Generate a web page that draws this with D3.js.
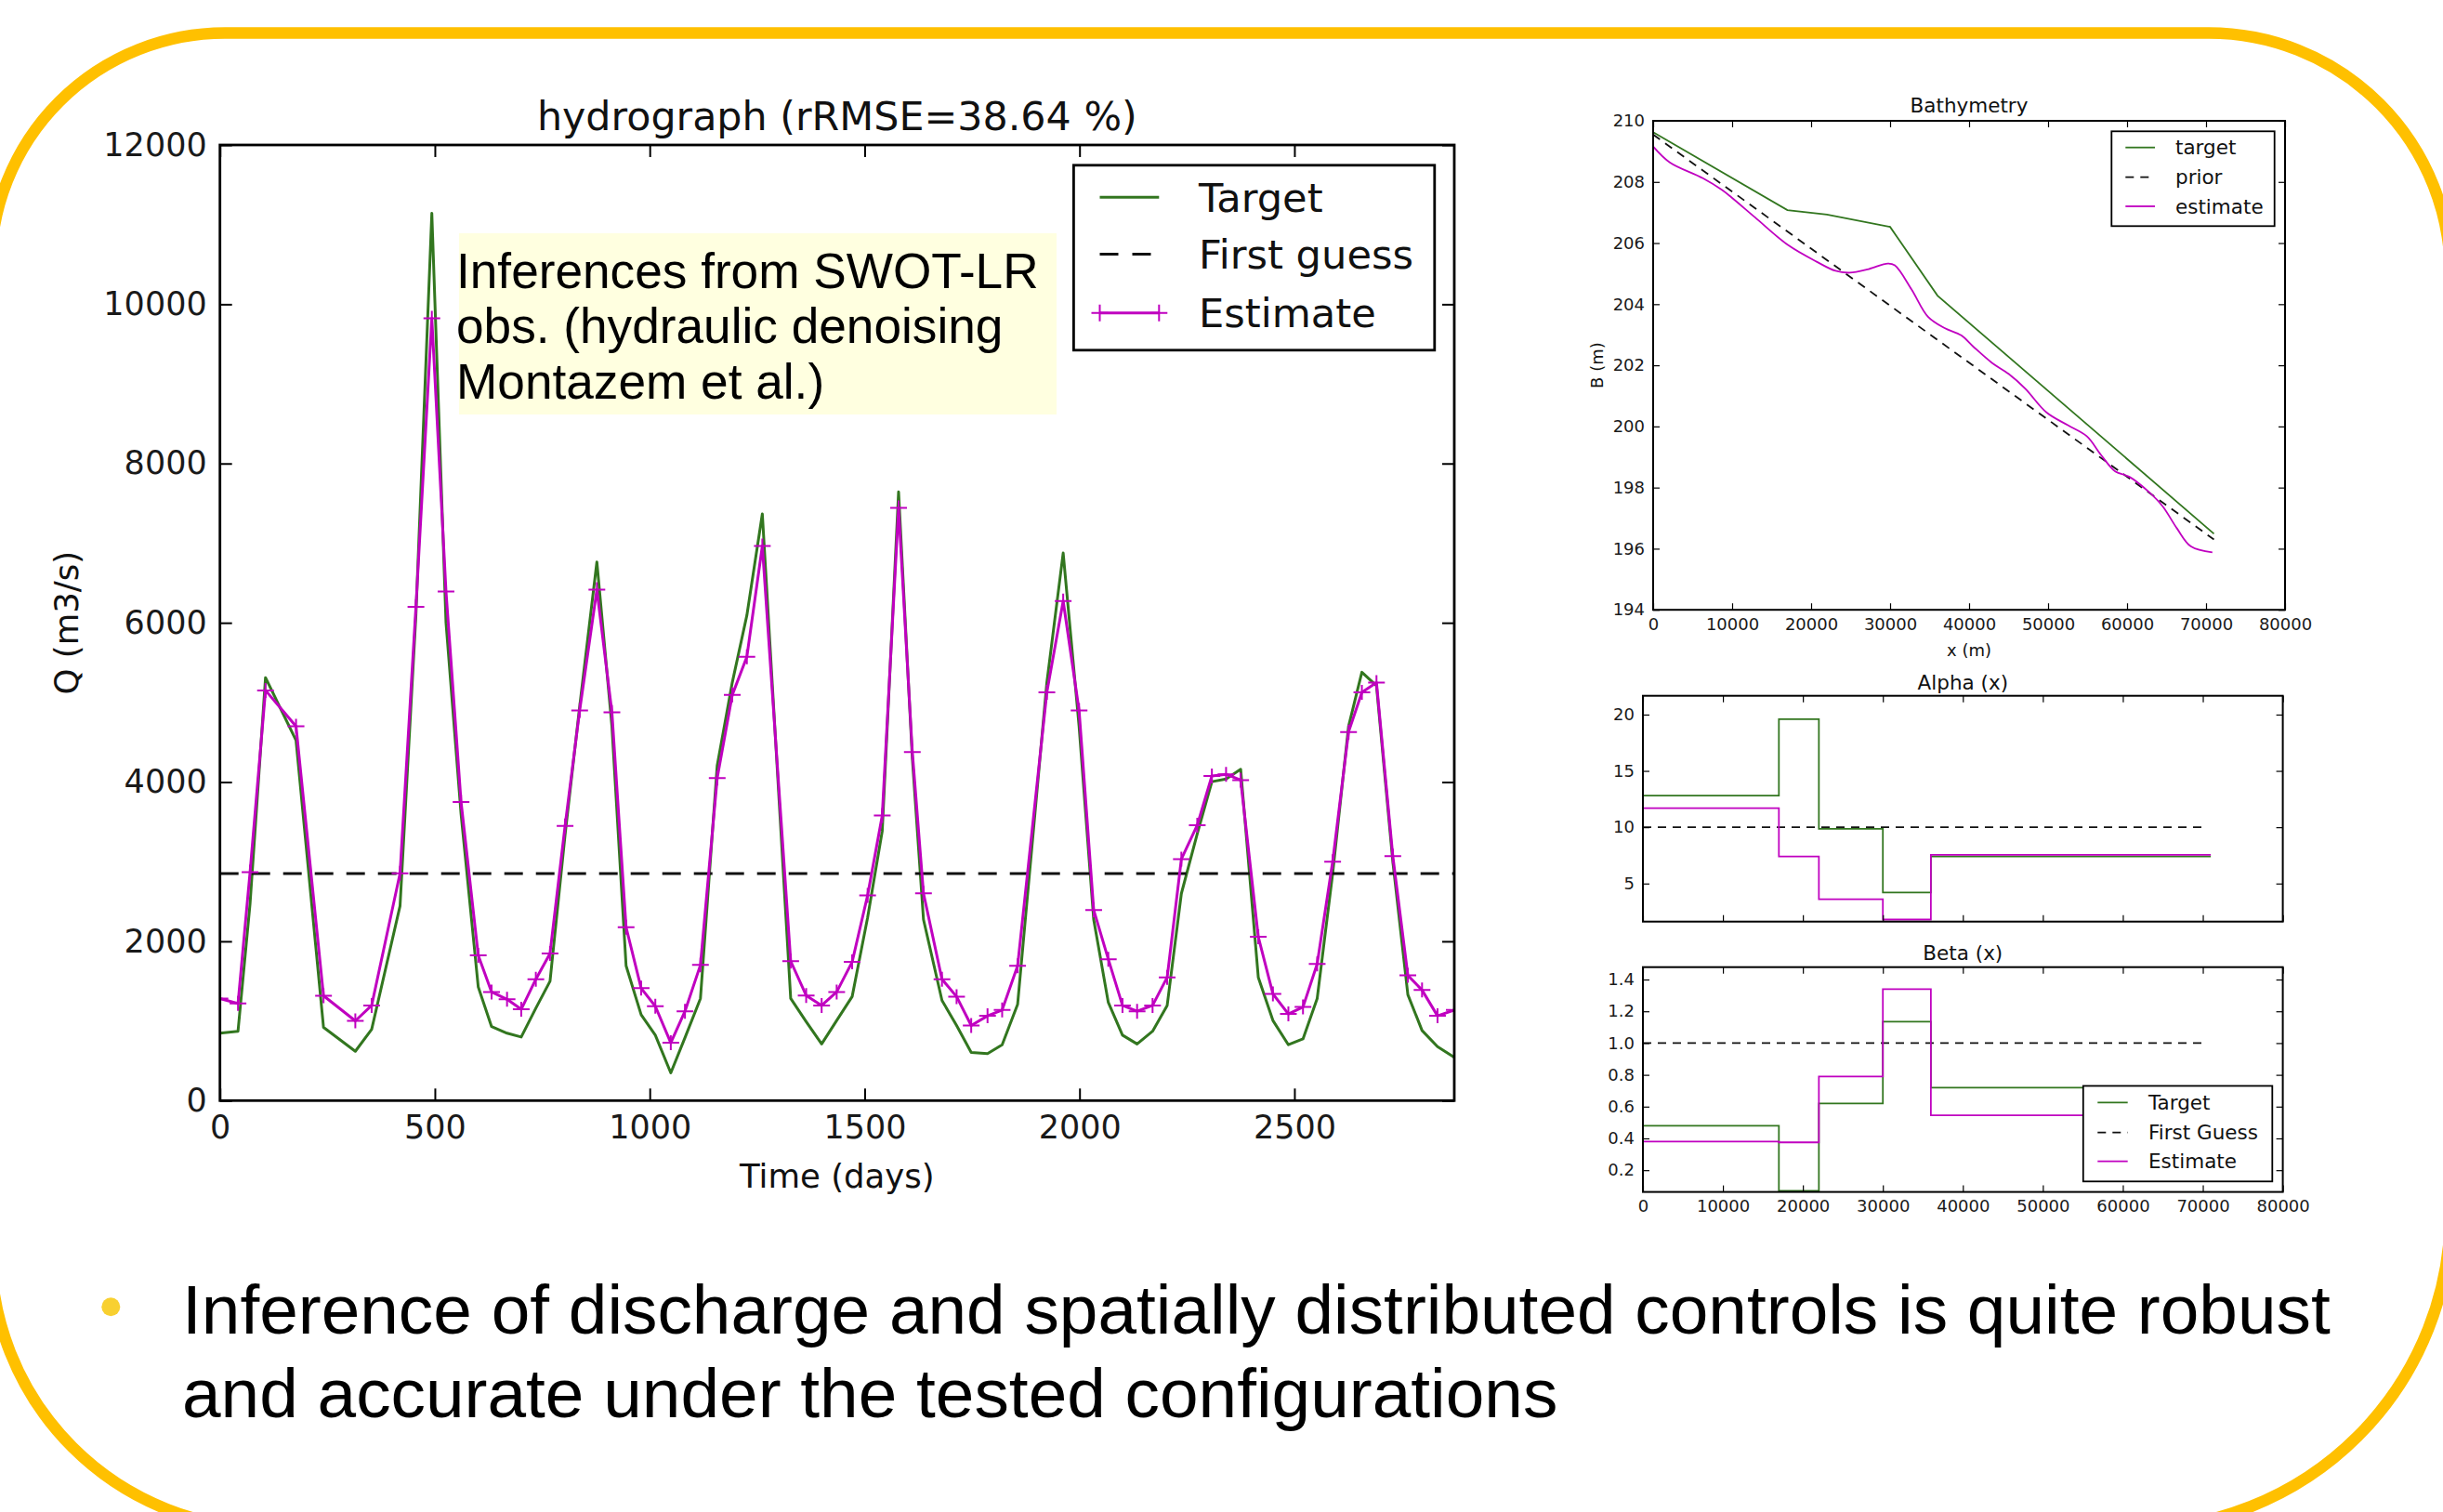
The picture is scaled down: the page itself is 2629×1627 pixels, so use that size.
<!DOCTYPE html>
<html>
<head>
<meta charset="utf-8">
<script src="https://cdn.jsdelivr.net/npm/d3@7"></script>
<style>
  body { margin: 0; background: #fff; }
  svg { display: block; }
</style>
</head>
<body>
<svg id="slide" width="2629" height="1627"></svg>
<script>
// ---- hydrograph data ----
const days = [0, 42, 70, 106, 177, 241, 315, 353, 419, 456, 493, 526, 561, 601, 632, 668, 701, 735, 768, 803,
  837, 877, 912, 945, 980, 1013, 1049, 1082, 1118, 1157, 1192, 1226, 1262, 1328, 1364, 1400, 1435, 1471, 1507,
  1541, 1579, 1611, 1637, 1680, 1714, 1748, 1786, 1820, 1856, 1924, 1962, 1999, 2033, 2067, 2100, 2134, 2170,
  2204, 2237, 2274, 2308, 2341, 2375, 2416, 2450, 2486, 2520, 2553, 2589, 2626, 2657, 2691, 2729, 2764, 2797,
  2833, 2872];
const targetQ = [846, 871, 2470, 5311, 4523, 919, 619, 895, 2443, 6100, 11142, 6000, 3600, 1427, 929, 846, 798,
  1160, 1499, 3337, 4950, 6764, 4700, 1693, 1079, 822, 348, 790, 1282, 4208, 5248, 6093, 7367, 1282, 991, 711,
  1006, 1306, 2300, 3386, 7644, 4300, 2273, 1258, 943, 605, 590, 701, 1209, 5250, 6876, 4700, 2273, 1233, 822,
  711, 871, 1195, 2600, 3350, 4005, 4039, 4160, 1548, 1006, 701, 774, 1282, 2850, 4700, 5379, 5209, 3000, 1330,
  880, 677, 542];
const estimateQ = [1282, 1219, 2868, 5151, 4701, 1316, 1001, 1195, 2854, 6201, 9824, 6393, 3749, 1824, 1364, 1272,
  1146, 1524, 1848, 3449, 4900, 6416, 4876, 2177, 1412, 1185, 726, 1122, 1703, 4049, 5093, 5572, 6965, 1751, 1320,
  1195, 1364, 1741, 2578, 3579, 7443, 4377, 2602, 1524, 1306, 943, 1064, 1137, 1693, 5127, 6273, 4900, 2394, 1775,
  1195, 1122, 1195, 1548, 3033, 3458, 4077, 4097, 4024, 2056, 1340, 1088, 1175, 1717, 2999, 4629, 5127, 5248,
  3071, 1572, 1388, 1064, 1137];
const firstGuessQ = 2850;
const qTicks = [0, 2000, 4000, 6000, 8000, 10000, 12000];
const dayTicks = [0, 500, 1000, 1500, 2000, 2500];

// ---- bathymetry ----
const bathyTargetX = [0, 17000, 22000, 30000, 36000, 71000];
const bathyTargetB = [209.63, 207.08, 206.93, 206.53, 204.28, 196.49];
const bathyPriorX = [0, 71000];
const bathyPriorB = [209.55, 196.3];
const bathyEstX = [0, 2100, 6300, 8700, 9900, 12900, 17100, 20700, 23100, 24900, 27300, 29700, 30600, 32700,
  34800, 36900, 39000, 40500, 42900, 45000, 47100, 49800, 52500, 54900, 56700, 58500, 60300, 62700, 64500,
  66300, 68100, 70800];
const bathyEstB = [209.16, 208.64, 208.12, 207.74, 207.5, 206.84, 205.93, 205.39, 205.09, 205.03, 205.15, 205.33,
  205.27, 204.49, 203.59, 203.22, 202.98, 202.62, 202.08, 201.72, 201.24, 200.46, 200.04, 199.68, 199.07, 198.53,
  198.35, 197.87, 197.39, 196.67, 196.07, 195.88];
const bTicks = [194, 196, 198, 200, 202, 204, 206, 208, 210];
const reachTicks = [0, 10000, 20000, 30000, 40000, 50000, 60000, 70000, 80000];

// ---- friction parameters (piecewise constant on reaches) ----
const reachX = [0, 17000, 22000, 30000, 36000, 71000];
const alphaTarget = [12.8, 19.6, 9.85, 4.2, 7.4, 7.4];
const alphaEstimate = [11.7, 7.4, 3.6, 1.8, 7.55, 7.55];
const alphaPrior = 10;
const betaTarget = [0.48, 0.07, 0.62, 1.135, 0.72, 0.72];
const betaEstimate = [0.38, 0.375, 0.79, 1.34, 0.545, 0.545];
const betaPrior = 1.0;
const priorEndX = 70000;
const alphaTicks = [5, 10, 15, 20];
const betaTicks = [0.2, 0.4, 0.6, 0.8, 1.0, 1.2, 1.4];

const GREEN = "#32761f", MAGENTA = "#c000c0";
const MPL = "DejaVu Sans", SLIDE = "Liberation Sans";

const svg = d3.select("#slide");

// ---- yellow rounded slide frame ----
const fr = { l: -10, r: 2637, t: 35.5, b: 1645 };
const rTL = 252, rTR = 260, rBR = 340, rBL = 300;
const fp = d3.path();
fp.moveTo(fr.l + rTL, fr.t);
fp.lineTo(fr.r - rTR, fr.t);
fp.arcTo(fr.r, fr.t, fr.r, fr.t + rTR, rTR);
fp.lineTo(fr.r, fr.b - rBR);
fp.arcTo(fr.r, fr.b, fr.r - rBR, fr.b, rBR);
fp.lineTo(fr.l + rBL, fr.b);
fp.arcTo(fr.l, fr.b, fr.l, fr.b - rBL, rBL);
fp.lineTo(fr.l, fr.t + rTL);
fp.arcTo(fr.l, fr.t, fr.l + rTL, fr.t, rTL);
fp.closePath();
svg.append("path").attr("d", fp.toString()).attr("fill", "none")
  .attr("stroke", "#ffc000").attr("stroke-width", 12.5);

// generic matplotlib-like box with inward ticks on all four sides
function axesBox(x, y, o) {
  const [x0, x1] = x.range();
  const y1 = y.range()[0], y0 = y.range()[1];
  const g = svg.append("g");
  g.append("g").attr("transform", `translate(0,${y1})`)
    .call(d3.axisBottom(x).tickValues(o.xTicks).tickSize(-o.tick).tickPadding(o.xPad)
      .tickFormat(o.xFmt || (() => "")));
  g.append("g").attr("transform", `translate(0,${y0})`)
    .call(d3.axisTop(x).tickValues(o.xTicks).tickSize(-o.tick).tickFormat(() => ""));
  g.append("g").attr("transform", `translate(${x0},0)`)
    .call(d3.axisLeft(y).tickValues(o.yTicks).tickSize(-o.tick).tickPadding(o.yPad)
      .tickFormat(o.yFmt || (() => "")));
  g.append("g").attr("transform", `translate(${x1},0)`)
    .call(d3.axisRight(y).tickValues(o.yTicks).tickSize(-o.tick).tickFormat(() => ""));
  g.selectAll(".domain").remove();
  g.selectAll(".tick line").attr("stroke", "#000").attr("stroke-width", o.tickW);
  g.selectAll("g").attr("font-family", MPL).attr("font-size", o.font);
  g.selectAll(".tick text").attr("fill", "#1a1a1a");
  g.append("rect").attr("x", x0).attr("y", y0).attr("width", x1 - x0).attr("height", y1 - y0)
    .attr("fill", "none").attr("stroke", "#000").attr("stroke-width", o.spine);
  return g;
}

function clipRect(id, x, y) {
  const [x0, x1] = x.range();
  svg.append("clipPath").attr("id", id).append("rect")
    .attr("x", x0).attr("y", y.range()[1]).attr("width", x1 - x0).attr("height", y.range()[0] - y.range()[1]);
}

function legend(box, items, o) {
  const g = svg.append("g");
  g.append("rect").attr("x", box.x).attr("y", box.y).attr("width", box.w).attr("height", box.h)
    .attr("fill", "#fff").attr("stroke", "#000").attr("stroke-width", o.border);
  items.forEach((it, i) => {
    const cy = o.rows[i];
    g.append("line").attr("x1", o.lx0).attr("x2", o.lx1).attr("y1", cy).attr("y2", cy)
      .attr("stroke", it.color).attr("stroke-width", it.width)
      .attr("stroke-dasharray", it.dash || null);
    if (it.marker) {
      [o.lx0, o.lx1].forEach(mx => g.append("path")
        .attr("d", `M${mx - o.ms},${cy}H${mx + o.ms}M${mx},${cy - o.ms}V${cy + o.ms}`)
        .attr("stroke", it.color).attr("stroke-width", 2));
    }
    g.append("text").attr("x", o.tx).attr("y", cy).attr("dy", "0.36em")
      .attr("font-family", MPL).attr("font-size", o.font).attr("fill", "#111").text(it.label);
  });
}

// ================= hydrograph =================
const mx = d3.scaleLinear().domain([0, d3.max(days)]).range([236.7, 1565]);
const my = d3.scaleLinear().domain([0, 12000]).range([1184.3, 156]);
clipRect("clipMain", mx, my);

const hyd = svg.append("g").attr("clip-path", "url(#clipMain)");
const qLine = vals => d3.line().x((d, i) => mx(days[i])).y((d, i) => my(vals[i]))(vals);

hyd.append("path").attr("d", qLine(targetQ)).attr("fill", "none")
  .attr("stroke", GREEN).attr("stroke-width", 3).attr("stroke-linejoin", "round");
hyd.append("line").attr("x1", mx(0)).attr("x2", mx(d3.max(days)))
  .attr("y1", my(firstGuessQ)).attr("y2", my(firstGuessQ))
  .attr("stroke", "#111").attr("stroke-width", 3).attr("stroke-dasharray", "20,14");
hyd.append("path").attr("d", qLine(estimateQ)).attr("fill", "none")
  .attr("stroke", MAGENTA).attr("stroke-width", 3).attr("stroke-linejoin", "round");
hyd.append("g").selectAll("path").data(estimateQ).join("path")
  .attr("d", (d, i) => {
    const px = mx(days[i]), py = my(d);
    return `M${px - 9},${py}H${px + 9}M${px},${py - 8}V${py + 8}`;
  })
  .attr("stroke", MAGENTA).attr("stroke-width", 2);

// annotation box
const note = svg.append("g");
note.append("rect").attr("x", 494).attr("y", 251).attr("width", 643).attr("height", 195).attr("fill", "#ffffe0");
["Inferences from SWOT-LR", "obs. (hydraulic denoising", "Montazem et al.)"].forEach((s, i) => {
  note.append("text").attr("x", 491).attr("y", 310 + i * 59.3)
    .attr("font-family", SLIDE).attr("font-size", 53.2).attr("fill", "#000").text(s);
});

axesBox(mx, my, {
  xTicks: dayTicks, yTicks: qTicks, tick: 13, tickW: 2, xPad: 16, yPad: 14,
  xFmt: d3.format("d"), yFmt: d3.format("d"), font: 35, spine: 2.8
});

svg.append("text").attr("x", (mx.range()[0] + mx.range()[1]) / 2).attr("y", 140)
  .attr("text-anchor", "middle").attr("font-family", MPL).attr("font-size", 42.8).attr("fill", "#111")
  .text("hydrograph (rRMSE=38.64 %)");
svg.append("text").attr("x", (mx.range()[0] + mx.range()[1]) / 2).attr("y", 1278)
  .attr("text-anchor", "middle").attr("font-family", MPL).attr("font-size", 35.5).attr("fill", "#111")
  .text("Time (days)");
svg.append("text").attr("transform", `translate(84,${(my.range()[0] + my.range()[1]) / 2}) rotate(-90)`)
  .attr("text-anchor", "middle").attr("font-family", MPL).attr("font-size", 35.5).attr("fill", "#111")
  .text("Q (m3/s)");

legend({ x: 1155.4, y: 177.8, w: 388.4, h: 199 }, [
  { label: "Target", color: GREEN, width: 3 },
  { label: "First guess", color: "#111", width: 3, dash: "20,15" },
  { label: "Estimate", color: MAGENTA, width: 3, marker: true }
], { rows: [212.3, 273.5, 336.7], lx0: 1183.5, lx1: 1247.3, tx: 1290, font: 43.2, border: 2.8, ms: 9 });

// ================= bathymetry =================
const bx = d3.scaleLinear().domain([0, 80000]).range([1779, 2459]);
const by = d3.scaleLinear().domain([194, 210]).range([656.2, 130]);
clipRect("clipBathy", bx, by);
const bathy = svg.append("g").attr("clip-path", "url(#clipBathy)");
const bLine = (xs, ys, curve) => d3.line().curve(curve || d3.curveLinear)
  .x((d, i) => bx(xs[i])).y((d, i) => by(ys[i]))(ys);
bathy.append("path").attr("d", bLine(bathyTargetX, bathyTargetB)).attr("fill", "none")
  .attr("stroke", GREEN).attr("stroke-width", 1.8);
bathy.append("path").attr("d", bLine(bathyPriorX, bathyPriorB)).attr("fill", "none")
  .attr("stroke", "#111").attr("stroke-width", 1.8).attr("stroke-dasharray", "9,7");
bathy.append("path").attr("d", bLine(bathyEstX, bathyEstB, d3.curveCatmullRom)).attr("fill", "none")
  .attr("stroke", MAGENTA).attr("stroke-width", 1.8);

axesBox(bx, by, {
  xTicks: reachTicks, yTicks: bTicks, tick: 7, tickW: 1.2, xPad: 9, yPad: 9,
  xFmt: d3.format("d"), yFmt: d3.format("d"), font: 18, spine: 2
});
svg.append("text").attr("x", (bx.range()[0] + bx.range()[1]) / 2).attr("y", 121)
  .attr("text-anchor", "middle").attr("font-family", MPL).attr("font-size", 21.5).attr("fill", "#111")
  .text("Bathymetry");
svg.append("text").attr("x", (bx.range()[0] + bx.range()[1]) / 2).attr("y", 706)
  .attr("text-anchor", "middle").attr("font-family", MPL).attr("font-size", 18).attr("fill", "#111")
  .text("x (m)");
svg.append("text").attr("transform", `translate(1725,${(by.range()[0] + by.range()[1]) / 2}) rotate(-90)`)
  .attr("text-anchor", "middle").attr("font-family", MPL).attr("font-size", 18).attr("fill", "#111")
  .text("B (m)");
legend({ x: 2272.3, y: 141.3, w: 175.4, h: 102 }, [
  { label: "target", color: GREEN, width: 1.8 },
  { label: "prior", color: "#111", width: 1.8, dash: "9,7" },
  { label: "estimate", color: MAGENTA, width: 1.8 }
], { rows: [158.7, 190.7, 222], lx0: 2287.3, lx1: 2319, tx: 2341, font: 21.5, border: 1.8, ms: 0 });

// ================= Alpha (x) =================
const rx = d3.scaleLinear().domain([0, 80000]).range([1768, 2456.6]);
const ay = d3.scaleLinear().domain([1.62, 21.67]).range([991.7, 748.7]);
const stepLine = (ys, yScale) => d3.line().curve(d3.curveStepAfter)
  .x((d, i) => rx(reachX[i])).y(d => yScale(d))(ys);
clipRect("clipAlpha", rx, ay);
const alpha = svg.append("g").attr("clip-path", "url(#clipAlpha)");
alpha.append("path").attr("d", stepLine(alphaTarget, ay)).attr("fill", "none")
  .attr("stroke", GREEN).attr("stroke-width", 1.8);
alpha.append("line").attr("x1", rx(0)).attr("x2", rx(priorEndX)).attr("y1", ay(alphaPrior)).attr("y2", ay(alphaPrior))
  .attr("stroke", "#111").attr("stroke-width", 1.8).attr("stroke-dasharray", "9,7");
alpha.append("path").attr("d", stepLine(alphaEstimate, ay)).attr("fill", "none")
  .attr("stroke", MAGENTA).attr("stroke-width", 1.8);
axesBox(rx, ay, {
  xTicks: reachTicks, yTicks: alphaTicks, tick: 7, tickW: 1.2, xPad: 9, yPad: 9,
  xFmt: null, yFmt: d3.format("d"), font: 18, spine: 2
});
svg.append("text").attr("x", (rx.range()[0] + rx.range()[1]) / 2).attr("y", 742)
  .attr("text-anchor", "middle").attr("font-family", MPL).attr("font-size", 21.5).attr("fill", "#111")
  .text("Alpha (x)");

// ================= Beta (x) =================
const ey = d3.scaleLinear().domain([0.063, 1.478]).range([1282.6, 1040.7]);
clipRect("clipBeta", rx, ey);
const beta = svg.append("g").attr("clip-path", "url(#clipBeta)");
beta.append("path").attr("d", stepLine(betaTarget, ey)).attr("fill", "none")
  .attr("stroke", GREEN).attr("stroke-width", 1.8);
beta.append("line").attr("x1", rx(0)).attr("x2", rx(priorEndX)).attr("y1", ey(betaPrior)).attr("y2", ey(betaPrior))
  .attr("stroke", "#111").attr("stroke-width", 1.8).attr("stroke-dasharray", "9,7");
beta.append("path").attr("d", stepLine(betaEstimate, ey)).attr("fill", "none")
  .attr("stroke", MAGENTA).attr("stroke-width", 1.8);
axesBox(rx, ey, {
  xTicks: reachTicks, yTicks: betaTicks, tick: 7, tickW: 1.2, xPad: 9, yPad: 9,
  xFmt: d3.format("d"), yFmt: d3.format(".1f"), font: 18, spine: 2
});
svg.append("text").attr("x", (rx.range()[0] + rx.range()[1]) / 2).attr("y", 1033)
  .attr("text-anchor", "middle").attr("font-family", MPL).attr("font-size", 21.5).attr("fill", "#111")
  .text("Beta (x)");
legend({ x: 2241.8, y: 1168.5, w: 203.5, h: 102.8 }, [
  { label: "Target", color: GREEN, width: 1.8 },
  { label: "First Guess", color: "#111", width: 1.8, dash: "9,7" },
  { label: "Estimate", color: MAGENTA, width: 1.8 }
], { rows: [1186.3, 1218.7, 1249.7], lx0: 2257.3, lx1: 2289.7, tx: 2312, font: 21.5, border: 1.8, ms: 0 });

// ================= bullet text =================
svg.append("circle").attr("cx", 119.3).attr("cy", 1406.3).attr("r", 10).attr("fill", "#f8d030");
["Inference of discharge and spatially distributed controls is quite robust",
 "and accurate under the tested configurations"].forEach((s, i) => {
  svg.append("text").attr("x", 196).attr("y", 1435 + i * 90)
    .attr("font-family", SLIDE).attr("font-size", 74.8).attr("fill", "#000").text(s);
});
</script>
</body>
</html>
